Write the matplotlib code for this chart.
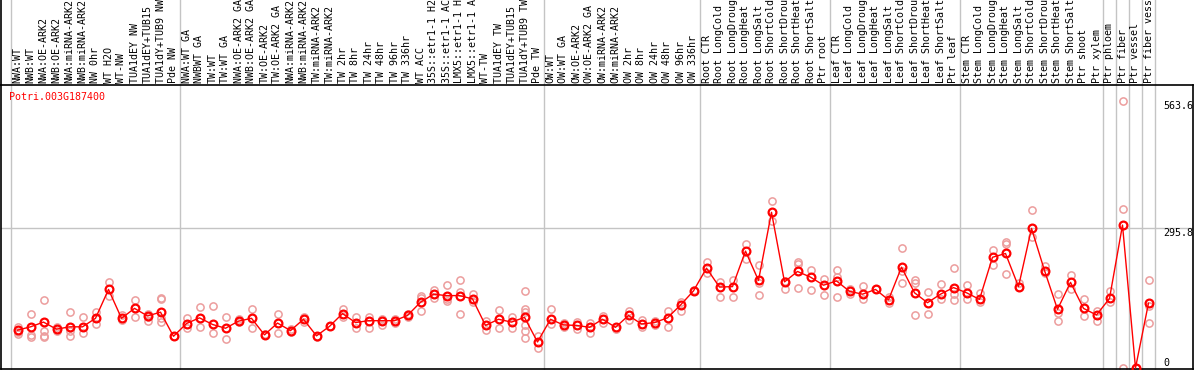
import matplotlib
matplotlib.use("Agg")
import matplotlib.pyplot as plt
from matplotlib.lines import Line2D
import matplotlib.transforms as mtransforms

W, H = 1194, 370
FONT = "DejaVu Sans Mono"

gene = "Potri.003G187400"

labels = [
    # group 1
    "NWA:WT", "NWB:WT", "NWA:OE-ARK2", "NWB:OE-ARK2", "NWA:miRNA-ARK2", "NWB:miRNA-ARK2",
    "NW 0hr", "WT H2O", "WT-NW", "TUA1dEY NW", "TUA1dEY+TUB15", "TUA1dY+TUB9 NW", "Pde NW",
    # group 2
    "NWA:WT GA", "NWBWT GA", "TW:WT", "TW:WT GA", "NWA:OE-ARK2 GA", "NWB:OE-ARK2 GA",
    "TW:OE-ARK2", "TW:OE-ARK2 GA", "NWA:miRNA-ARK2", "NWB:miRNA-ARK2", "TW:miRNA-ARK2",
    "TW:miRNA-ARK2", "TW 2hr", "TW 8hr", "TW 24hr", "TW 48hr", "TW 96hr", "TW 336hr",
    "WT ACC", "35S::etr1-1 H2", "35S::etr1-1 AC", "LMX5::etr1-1 H", "LMX5::etr1-1 A",
    "WT-TW", "TUA1dEY TW", "TUA1dEY+TUB15", "TUA1dY+TUB9 TW", "Pde TW",
    # group 3
    "OW:WT", "OW:WT GA", "OW:OE-ARK2", "OW:OE-ARK2 GA", "OW:miRNA-ARK2", "OW:miRNA-ARK2",
    "OW 2hr", "OW 8hr", "OW 24hr", "OW 48hr", "OW 96hr", "OW 336hr",
    # root
    "Root CTR", "Root LongCold", "Root LongDroug", "Root LongHeat", "Root LongSalt",
    "Root ShortCold", "Root ShortDrou", "Root ShortHeat", "Root ShortSalt", "Ptr root",
    # leaf
    "Leaf CTR", "Leaf LongCold", "Leaf LongDroug", "Leaf LongHeat", "Leaf LongSalt",
    "Leaf ShortCold", "Leaf ShortDrou", "Leaf ShortHeat", "Leaf ShortSalt", "Ptr leaf",
    # stem
    "Stem CTR", "Stem LongCold", "Stem LongDroug", "Stem LongHeat", "Stem LongSalt",
    "Stem ShortCold", "Stem ShortDrou", "Stem ShortHeat", "Stem ShortSalt", "Ptr shoot",
    "Ptr xylem",
    # single tissues
    "Ptr phloem", "Ptr fiber", "Ptr vessel", "Ptr fiber vess",
]

group_sizes = [13, 28, 12, 10, 10, 11, 1, 1, 1, 1]

means = [
    80, 87, 97, 82, 87, 87, 105, 166, 105, 126, 110, 118, 67,
    94, 106, 92, 84, 99, 105, 70, 95, 79, 103, 68, 88, 115, 96, 100, 100, 100, 111,
    139, 156, 153, 153, 146, 90, 103, 97, 107, 55,
    103, 91, 90, 86, 103, 86, 111, 93, 96, 106, 133, 163,
    211, 171, 172, 247, 185, 329, 182, 204, 192, 175,
    184, 162, 156, 166, 144, 213, 159, 138, 156, 170,
    159, 145, 234, 242, 172, 295, 206, 124, 181, 126, 112,
    147, 302, 0, 137,
]

replicates = [
    [87, 77, 71], [115, 70, 65], [144, 79, 68, 65], [87, 79], [118, 79, 68],
    [107, 73], [119, 105, 92], [181, 153], [112, 101], [144, 108],
    [115, 108, 100], [147, 145, 105, 98], [67],
    [105, 84], [128, 87], [130, 73], [107, 61], [103, 98], [124, 84], [71],
    [115, 73], [82, 76], [108, 98], [66], [88], [124, 107], [107, 84],
    [108, 84], [104, 91], [103, 96], [114, 108], [152, 147, 120], [164, 147],
    [175, 145, 142], [187, 161, 115], [156, 139], [100, 80], [123, 85],
    [107, 84], [163, 124, 119, 91, 79, 63], [68, 42],
    [124, 94], [96, 87], [98, 82], [96, 73], [110, 96], [82], [121, 101],
    [101, 87], [99, 91], [121, 87], [140, 121], [165],
    [225, 201], [181, 151], [186, 151], [262, 231], [217, 180, 155],
    [352, 311], [184, 167], [225, 220, 170], [208, 165], [189, 154],
    [207, 193, 151], [167, 156], [174, 145], [168], [149, 138],
    [253, 204, 179], [186, 180, 111], [161, 114], [177, 145], [211, 156, 144],
    [175, 145], [158, 139], [249, 217], [267, 262, 199], [180, 172],
    [333, 277], [216, 200], [156, 117, 99], [196, 166], [145, 110], [121, 100],
    [163, 140], [563.6, 335, 0], [0], [185, 131, 96],
]

yticks = [0, 295.8, 563.6]

fig = plt.figure(figsize=(W / 100, H / 100), dpi=100)
# plot box: x 1..1193 px, y 85..369 px (from top)
ax = fig.add_axes([1 / W, 1 / H, 1192 / W, 284 / H])
ax.set_xlim((1 - 17.5) / 13, (1193 - 17.5) / 13)
ax.set_ylim((368 - 369) / 0.4732, (368 - 85) / 0.4732)
ax.set_xticks([])
ax.set_yticks([])
for s in ax.spines.values():
    s.set_color("black")
    s.set_linewidth(1.2)

grid_col = "#c4c4c4"
ax.axhline(yticks[1], color=grid_col, lw=1, zorder=1)

# group separators, running up through the label strip
top_ext = 1 + 86 / 284
bounds = [-0.5]
for g in group_sizes:
    bounds.append(bounds[-1] + g)
for b in bounds:
    ax.axvline(b, ymin=0, ymax=top_ext, color=grid_col, lw=1, clip_on=False, zorder=1)

# left frame line in label strip
fig.add_artist(Line2D([1.2 / W, 1.2 / W], [(H - 85) / H, 1], color="black", lw=1.2))

xs = list(range(len(labels)))

# replicates
rx, ry = [], []
for i, reps in enumerate(replicates):
    for v in reps:
        rx.append(i)
        ry.append(v)
ax.plot(rx, ry, ls="none", marker="o", ms=5.2, mfc="none", mec="#ec9d9d", mew=1.1, zorder=2)

# means
ax.plot(xs, means, color="red", lw=1, zorder=3)
ax.plot(xs, means, ls="none", marker="o", ms=5.6, mfc="none", mec="red", mew=1.6, zorder=4)

# column labels on top
trans = mtransforms.blended_transform_factory(ax.transData, ax.transAxes)
for i, lab in enumerate(labels):
    ax.text(i, 1 + 2 / 284, lab, rotation=90, ha="center", va="bottom", transform=trans,
            fontsize=7.2, family=FONT, color="black", clip_on=False)

ax.text(8 / 1192, 1 - 7 / 284, gene, transform=ax.transAxes, ha="left", va="top",
        fontsize=7.2, family=FONT, color="red")

tx = (1163 - 17.5) / 13
ax.text(tx, yticks[2], "563.6", ha="left", va="top", fontsize=7.2, family=FONT)
ax.text(tx, yticks[1], "295.8", ha="left", va="top", fontsize=7.2, family=FONT)
ax.text(tx, yticks[0], "0", ha="left", va="bottom", fontsize=7.2, family=FONT)

fig.savefig("out.png", dpi=100)
